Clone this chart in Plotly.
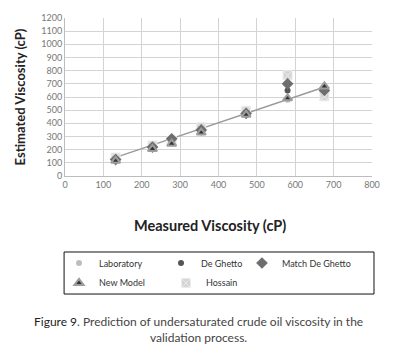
import plotly.graph_objects as go

measured = [132, 228, 278, 355, 472, 580, 676]
laboratory = [132, 228, 278, 355, 472, 580, 676]
de_ghetto = [125, 215, 272, 345, 478, 650, 660]
match_de_ghetto = [125, 220, 282, 350, 475, 700, 650]
new_model = [115, 205, 245, 330, 465, 590, 680]
hossain = [140, 232, 268, 370, 495, 765, 605]
trend_x = [117, 682]
trend_y = [126, 682]

x_ticks = [0, 100, 200, 300, 400, 500, 600, 700, 800]
y_ticks = list(range(0, 1201, 100))

FONT = "Lato"

fig = go.Figure()
fig.add_trace(go.Scatter(x=trend_x, y=trend_y, mode="lines",
                         line=dict(color="#9a9a9a", width=1.5), showlegend=False, hoverinfo="skip"))
fig.add_trace(go.Scatter(x=measured, y=laboratory, mode="markers", name="Laboratory", legend="legend",
                         marker=dict(symbol="circle", size=6, color="#bdbdbd")))
fig.add_trace(go.Scatter(x=measured, y=hossain, mode="markers", name="Hossain", legend="legend5",
                         marker=dict(symbol="square-x", size=9, color="#d4d4d4",
                                     line=dict(color="#ececec", width=1))))
fig.add_trace(go.Scatter(x=measured, y=de_ghetto, mode="markers", name="De Ghetto", legend="legend2",
                         marker=dict(symbol="circle", size=6, color="#555555")))
fig.add_trace(go.Scatter(x=measured, y=match_de_ghetto, mode="markers", name="Match De Ghetto", legend="legend3",
                         marker=dict(symbol="diamond", size=9, color="#6e6e6e")))
fig.add_trace(go.Scatter(x=measured, y=new_model, mode="markers", name="New Model", legend="legend4",
                         marker=dict(symbol="triangle-up", size=8, color="#333333",
                                     line=dict(color="#9c9c9c", width=2))))


def leg(x, y):
    return dict(orientation="h", x=x, xanchor="left", y=y, yanchor="top",
                borderwidth=0, bgcolor="rgba(0,0,0,0)", itemwidth=30,
                font=dict(size=9, color="#333"), itemsizing="trace")


ROW1, ROW2 = -0.459, -0.585
fig.update_layout(
    width=389, height=337,
    margin=dict(l=57, r=25, t=10, b=169, autoexpand=False),
    paper_bgcolor="white", plot_bgcolor="white",
    font=dict(family=FONT, color="#222"),
    legend=leg(-0.0195, ROW1),
    legend2=leg(0.3127, ROW1),
    legend3=leg(0.5765, ROW1),
    legend4=leg(-0.0195, ROW2),
    legend5=leg(0.329, ROW2),
)
fig.update_xaxes(range=[0, 800], tickvals=x_ticks, showgrid=True, gridcolor="#d3d3d3", gridwidth=1,
                 zeroline=False, showline=True, linecolor="#bdbdbd", ticks="", automargin=False,
                 tickfont=dict(size=9, color="#777"))
fig.update_yaxes(range=[0, 1200], tickvals=y_ticks, showgrid=True, gridcolor="#d3d3d3", gridwidth=1,
                 zeroline=False, showline=True, linecolor="#bdbdbd", ticks="", automargin=False,
                 tickfont=dict(size=9, color="#777"),
                 title=dict(text="<b>Estimated Viscosity (cP)</b>", font=dict(size=13, color="#222"), standoff=12))

fig.add_annotation(xref="paper", yref="paper", x=0.472, y=-0.316, xanchor="center", yanchor="middle",
                   text="<b>Measured Viscosity (cP)</b>", showarrow=False,
                   font=dict(size=14.5, color="#222", family=FONT))

fig.add_shape(type="rect", xref="paper", yref="paper", x0=-0.003, x1=1.0065,
              y0=-0.481, y1=-0.747,
              line=dict(color="#111", width=1), fillcolor="rgba(0,0,0,0)")

fig.add_annotation(xref="paper", yref="paper", x=0.436, y=-0.861, xanchor="center", yanchor="top",
                   text="<span style='color:#222'>Figure 9</span>. Prediction of undersaturated crude oil viscosity in the<br>validation process.",
                   showarrow=False, align="center", font=dict(size=12, color="#444", family=FONT))

fig.write_html("out.html")
